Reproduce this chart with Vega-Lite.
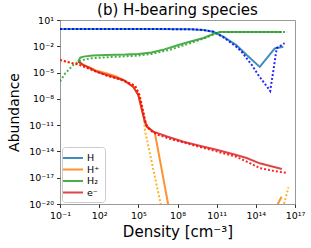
{
  "$schema": "https://vega.github.io/schema/vega-lite/v6.json",
  "width": 235,
  "height": 184,
  "autosize": {"type": "none"},
  "padding": {"left": 60, "top": 20, "right": 16, "bottom": 44},
  "background": "white",
  "title": {"text": "(b) H-bearing species", "fontSize": 15, "font": "DejaVu Sans", "fontWeight": "normal", "color": "#000", "offset": 4, "dy": 6.5},
  "config": {
    "view": {"stroke": "#999", "strokeWidth": 1},
    "font": "DejaVu Sans",
    "axis": {"grid": false, "domain": false, "tickColor": "#333", "tickSize": 3.5, "labelColor": "#000", "labelFontSize": 9.5, "titleFontWeight": "normal", "titleColor": "#000", "labelFlush": false, "labelOverlap": false, "labelPadding": 3}
  },
  "data": {"values": [
    {"model": "A", "species": "H", "density": 0.1, "abundance": 0.93},
    {"model": "A", "species": "H", "density": 100, "abundance": 0.93},
    {"model": "A", "species": "H", "density": 1e6, "abundance": 0.93},
    {"model": "A", "species": "H", "density": 1e9, "abundance": 0.89},
    {"model": "A", "species": "H", "density": 1e10, "abundance": 0.71},
    {"model": "A", "species": "H", "density": 5.62e10, "abundance": 0.447},
    {"model": "A", "species": "H", "density": 3.16e11, "abundance": 0.126},
    {"model": "A", "species": "H", "density": 3.16e12, "abundance": 0.0141},
    {"model": "A", "species": "H", "density": 2.0e13, "abundance": 1e-3},
    {"model": "A", "species": "H", "density": 2.0e14, "abundance": 4.47e-5},
    {"model": "A", "species": "H", "density": 2.82e15, "abundance": 5.62e-3},
    {"model": "A", "species": "H", "density": 1.26e16, "abundance": 8.91e-3},

    {"model": "A", "species": "H⁺", "density": 2.51, "abundance": 1.74e-4},
    {"model": "A", "species": "H⁺", "density": 6.31, "abundance": 7.24e-5},
    {"model": "A", "species": "H⁺", "density": 20, "abundance": 3.55e-5},
    {"model": "A", "species": "H⁺", "density": 63.1, "abundance": 1.58e-5},
    {"model": "A", "species": "H⁺", "density": 398, "abundance": 7.94e-6},
    {"model": "A", "species": "H⁺", "density": 2000, "abundance": 3.55e-6},
    {"model": "A", "species": "H⁺", "density": 7080, "abundance": 1.41e-6},
    {"model": "A", "species": "H⁺", "density": 3.98e4, "abundance": 2.51e-7},
    {"model": "A", "species": "H⁺", "density": 1e5, "abundance": 2.75e-8},
    {"model": "A", "species": "H⁺", "density": 1.78e5, "abundance": 7.94e-10},
    {"model": "A", "species": "H⁺", "density": 3.16e5, "abundance": 2.51e-11},
    {"model": "A", "species": "H⁺", "density": 4.47e5, "abundance": 7.94e-12},
    {"model": "A", "species": "H⁺", "density": 1.86e6, "abundance": 1.26e-12},
    {"model": "A", "species": "H⁺", "density": 3.39e7, "abundance": 1e-22},
    {"model": "A", "species": "H⁺", "density": 1e15, "abundance": 1e-22},
    {"model": "A", "species": "H⁺", "density": 9.33e15, "abundance": 6.76e-20},

    {"model": "A", "species": "H₂", "density": 2.51, "abundance": 1.74e-4},
    {"model": "A", "species": "H₂", "density": 3.55, "abundance": 5.01e-4},
    {"model": "A", "species": "H₂", "density": 6.31, "abundance": 6.61e-4},
    {"model": "A", "species": "H₂", "density": 31.6, "abundance": 8.91e-4},
    {"model": "A", "species": "H₂", "density": 316, "abundance": 1e-3},
    {"model": "A", "species": "H₂", "density": 1e4, "abundance": 1.12e-3},
    {"model": "A", "species": "H₂", "density": 1e5, "abundance": 1.32e-3},
    {"model": "A", "species": "H₂", "density": 1e6, "abundance": 2.0e-3},
    {"model": "A", "species": "H₂", "density": 1e7, "abundance": 4.47e-3},
    {"model": "A", "species": "H₂", "density": 1e8, "abundance": 0.0132},
    {"model": "A", "species": "H₂", "density": 1e9, "abundance": 0.0355},
    {"model": "A", "species": "H₂", "density": 1e10, "abundance": 0.0891},
    {"model": "A", "species": "H₂", "density": 5.62e10, "abundance": 0.263},
    {"model": "A", "species": "H₂", "density": 1.78e11, "abundance": 0.427},
    {"model": "A", "species": "H₂", "density": 1e13, "abundance": 0.427},
    {"model": "A", "species": "H₂", "density": 1e16, "abundance": 0.427},

    {"model": "A", "species": "e⁻", "density": 2.51, "abundance": 1.74e-4},
    {"model": "A", "species": "e⁻", "density": 6.31, "abundance": 7.24e-5},
    {"model": "A", "species": "e⁻", "density": 20, "abundance": 3.16e-5},
    {"model": "A", "species": "e⁻", "density": 63.1, "abundance": 1.26e-5},
    {"model": "A", "species": "e⁻", "density": 398, "abundance": 5.25e-6},
    {"model": "A", "species": "e⁻", "density": 7080, "abundance": 1.41e-6},
    {"model": "A", "species": "e⁻", "density": 3.98e4, "abundance": 2.51e-7},
    {"model": "A", "species": "e⁻", "density": 1e5, "abundance": 2.75e-8},
    {"model": "A", "species": "e⁻", "density": 1.78e5, "abundance": 7.94e-10},
    {"model": "A", "species": "e⁻", "density": 3.16e5, "abundance": 2.51e-11},
    {"model": "A", "species": "e⁻", "density": 4.47e5, "abundance": 6.31e-12},
    {"model": "A", "species": "e⁻", "density": 1.41e6, "abundance": 1.78e-12},
    {"model": "A", "species": "e⁻", "density": 1.58e7, "abundance": 5.01e-13},
    {"model": "A", "species": "e⁻", "density": 2.82e8, "abundance": 1.26e-13},
    {"model": "A", "species": "e⁻", "density": 1e10, "abundance": 3.47e-14},
    {"model": "A", "species": "e⁻", "density": 1e11, "abundance": 1.58e-14},
    {"model": "A", "species": "e⁻", "density": 3.16e12, "abundance": 3.98e-15},
    {"model": "A", "species": "e⁻", "density": 2e13, "abundance": 1.78e-15},
    {"model": "A", "species": "e⁻", "density": 2e14, "abundance": 4.37e-16},
    {"model": "A", "species": "e⁻", "density": 1e16, "abundance": 1e-16},

    {"model": "B", "species": "H", "density": 0.1, "abundance": 0.93},
    {"model": "B", "species": "H", "density": 100, "abundance": 0.93},
    {"model": "B", "species": "H", "density": 1e6, "abundance": 0.93},
    {"model": "B", "species": "H", "density": 1e9, "abundance": 0.89},
    {"model": "B", "species": "H", "density": 1e10, "abundance": 0.71},
    {"model": "B", "species": "H", "density": 5.62e10, "abundance": 0.447},
    {"model": "B", "species": "H", "density": 3.16e11, "abundance": 0.112},
    {"model": "B", "species": "H", "density": 3.16e12, "abundance": 8.91e-3},
    {"model": "B", "species": "H", "density": 7.94e12, "abundance": 2.51e-3},
    {"model": "B", "species": "H", "density": 5.01e13, "abundance": 7.08e-5},
    {"model": "B", "species": "H", "density": 1.58e14, "abundance": 5.01e-6},
    {"model": "B", "species": "H", "density": 1.26e15, "abundance": 7.94e-8},
    {"model": "B", "species": "H", "density": 2.24e15, "abundance": 2.0e-5},
    {"model": "B", "species": "H", "density": 3.98e15, "abundance": 6.31e-3},
    {"model": "B", "species": "H", "density": 1.58e16, "abundance": 0.0224},

    {"model": "B", "species": "H⁺", "density": 0.1, "abundance": 2.69e-4},
    {"model": "B", "species": "H⁺", "density": 1, "abundance": 1.12e-4},
    {"model": "B", "species": "H⁺", "density": 2.51, "abundance": 8.32e-5},
    {"model": "B", "species": "H⁺", "density": 6.31, "abundance": 5.01e-5},
    {"model": "B", "species": "H⁺", "density": 20, "abundance": 2.51e-5},
    {"model": "B", "species": "H⁺", "density": 316, "abundance": 5.01e-6},
    {"model": "B", "species": "H⁺", "density": 7080, "abundance": 1.26e-6},
    {"model": "B", "species": "H⁺", "density": 5.62e4, "abundance": 3.16e-7},
    {"model": "B", "species": "H⁺", "density": 1.26e5, "abundance": 2.51e-8},
    {"model": "B", "species": "H⁺", "density": 2.51e5, "abundance": 2.51e-10},
    {"model": "B", "species": "H⁺", "density": 3.16e5, "abundance": 2.82e-12},
    {"model": "B", "species": "H⁺", "density": 1e7, "abundance": 1e-22},
    {"model": "B", "species": "H⁺", "density": 6.31e15, "abundance": 1e-22},
    {"model": "B", "species": "H⁺", "density": 3.16e16, "abundance": 7.94e-19},

    {"model": "B", "species": "H₂", "density": 0.1, "abundance": 1e-6},
    {"model": "B", "species": "H₂", "density": 0.251, "abundance": 7.94e-6},
    {"model": "B", "species": "H₂", "density": 1, "abundance": 7.08e-5},
    {"model": "B", "species": "H₂", "density": 2.51, "abundance": 1.66e-4},
    {"model": "B", "species": "H₂", "density": 6.31, "abundance": 2.82e-4},
    {"model": "B", "species": "H₂", "density": 20, "abundance": 4.17e-4},
    {"model": "B", "species": "H₂", "density": 1000, "abundance": 6.03e-4},
    {"model": "B", "species": "H₂", "density": 1e5, "abundance": 8.71e-4},
    {"model": "B", "species": "H₂", "density": 1e6, "abundance": 1.32e-3},
    {"model": "B", "species": "H₂", "density": 2.51e7, "abundance": 3.98e-3},
    {"model": "B", "species": "H₂", "density": 5.01e8, "abundance": 0.0166},
    {"model": "B", "species": "H₂", "density": 1e10, "abundance": 0.0759},
    {"model": "B", "species": "H₂", "density": 6.31e10, "abundance": 0.24},
    {"model": "B", "species": "H₂", "density": 2e11, "abundance": 0.427},
    {"model": "B", "species": "H₂", "density": 2.51e16, "abundance": 0.427},

    {"model": "B", "species": "e⁻", "density": 0.1, "abundance": 2.69e-4},
    {"model": "B", "species": "e⁻", "density": 1, "abundance": 1.12e-4},
    {"model": "B", "species": "e⁻", "density": 2.51, "abundance": 8.32e-5},
    {"model": "B", "species": "e⁻", "density": 6.31, "abundance": 5.01e-5},
    {"model": "B", "species": "e⁻", "density": 20, "abundance": 2.51e-5},
    {"model": "B", "species": "e⁻", "density": 316, "abundance": 5.01e-6},
    {"model": "B", "species": "e⁻", "density": 7080, "abundance": 1.26e-6},
    {"model": "B", "species": "e⁻", "density": 5.62e4, "abundance": 3.16e-7},
    {"model": "B", "species": "e⁻", "density": 1.26e5, "abundance": 2.51e-8},
    {"model": "B", "species": "e⁻", "density": 2.51e5, "abundance": 2.51e-10},
    {"model": "B", "species": "e⁻", "density": 3.98e5, "abundance": 1.26e-11},
    {"model": "B", "species": "e⁻", "density": 7.94e5, "abundance": 2.51e-12},
    {"model": "B", "species": "e⁻", "density": 3.16e6, "abundance": 7.94e-13},
    {"model": "B", "species": "e⁻", "density": 3.16e7, "abundance": 2.51e-13},
    {"model": "B", "species": "e⁻", "density": 1e10, "abundance": 2.51e-14},
    {"model": "B", "species": "e⁻", "density": 3.16e12, "abundance": 2.51e-15},
    {"model": "B", "species": "e⁻", "density": 3.16e13, "abundance": 5.01e-16},
    {"model": "B", "species": "e⁻", "density": 2e14, "abundance": 1.26e-16},
    {"model": "B", "species": "e⁻", "density": 2e15, "abundance": 6.31e-17},
    {"model": "B", "species": "e⁻", "density": 2.24e16, "abundance": 3.55e-17}
  ]},
  "encoding": {
    "x": {"field": "density", "type": "quantitative",
      "scale": {"type": "log", "domain": [0.1, 1e17], "nice": false},
      "axis": {"title": "Density [cm⁻³]", "titleFontSize": 15, "values": [0.1, 100, 1e5, 1e8, 1e11, 1e14, 1e17], "titlePadding": 4,
        "labelExpr": "'10' + replace(replace(replace(replace(replace(replace(replace(replace(replace(replace('' + round(log(datum.value)/LN10), regexp('-','g'), '⁻'), regexp('0','g'), '⁰'), regexp('1','g'), '¹'), regexp('2','g'), '²'), regexp('3','g'), '³'), regexp('4','g'), '⁴'), regexp('5','g'), '⁵'), regexp('7','g'), '⁷'), regexp('8','g'), '⁸'), regexp('9','g'), '⁹')"}},
    "y": {"field": "abundance", "type": "quantitative",
      "scale": {"type": "log", "domain": [1e-20, 10], "nice": false},
      "axis": {"title": "Abundance", "titleFontSize": 14, "values": [10, 0.01, 1e-5, 1e-8, 1e-11, 1e-14, 1e-17, 1e-20], "titlePadding": 7,
        "labelExpr": "'10' + replace(replace(replace(replace(replace(replace(replace(replace(replace(replace('' + round(log(datum.value)/LN10), regexp('-','g'), '⁻'), regexp('0','g'), '⁰'), regexp('1','g'), '¹'), regexp('2','g'), '²'), regexp('3','g'), '³'), regexp('4','g'), '⁴'), regexp('5','g'), '⁵'), regexp('7','g'), '⁷'), regexp('8','g'), '⁸'), regexp('9','g'), '⁹')"}}
  },
  "layer": [
    {
      "transform": [{"filter": "datum.model === 'A' && datum.species === 'H⁺'"}],
      "mark": {"type": "line", "clip": true, "strokeWidth": 2, "opacity": 0.85, "color": "#ff7f0e"}
    },
    {
      "transform": [{"filter": "datum.model === 'B' && datum.species === 'H⁺'"}],
      "mark": {"type": "line", "clip": true, "strokeWidth": 2, "strokeDash": [2, 2], "opacity": 0.85, "color": "#ffa500"}
    },
    {
      "transform": [{"filter": "datum.model === 'A' && datum.species !== 'H⁺'"}],
      "mark": {"type": "line", "clip": true, "strokeWidth": 2, "opacity": 0.85},
      "encoding": {
        "color": {"field": "species", "type": "nominal",
          "scale": {"domain": ["H", "H⁺", "H₂", "e⁻"], "range": ["#1f77b4", "#ff7f0e", "#2ca02c", "#d62728"]},
          "legend": {"orient": "bottom-left", "offset": 2, "title": null, "symbolType": "M-2,0H2", "symbolSize": 100, "symbolStrokeWidth": 2, "labelFontSize": 9.5, "labelColor": "#000", "fillColor": "white", "strokeColor": "#ccc", "cornerRadius": 3, "padding": 5, "rowPadding": 0.5, "labelOffset": 8}}
      }
    },
    {
      "transform": [{"filter": "datum.model === 'B' && datum.species !== 'H⁺'"}],
      "mark": {"type": "line", "clip": true, "strokeWidth": 2, "strokeDash": [2, 2], "opacity": 0.85},
      "encoding": {
        "color": {"field": "species", "type": "nominal",
          "scale": {"domain": ["H", "H⁺", "H₂", "e⁻"], "range": ["#0000ff", "#ffa500", "#2ca02c", "#ff0000"]},
          "legend": null}
      }
    }
  ],
  "resolve": {"scale": {"color": "independent"}}
}
